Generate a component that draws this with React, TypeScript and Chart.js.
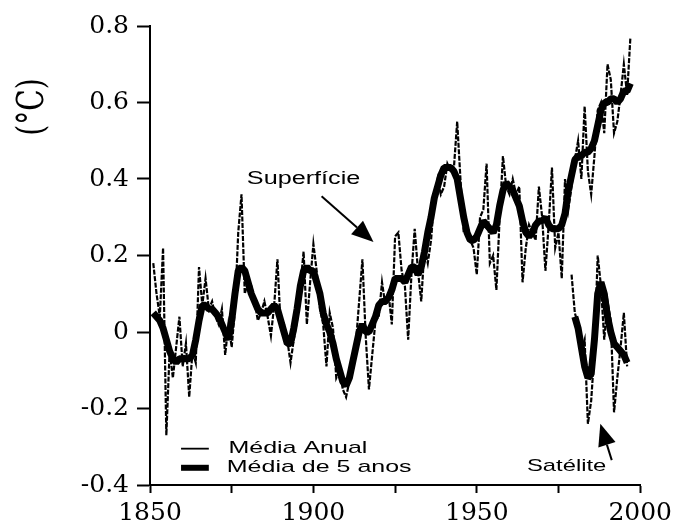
import React, { useEffect, useRef } from "react";
import { Chart, registerables } from "chart.js";

Chart.register(...registerables);

// ---- data ----
const surfaceStartYear = 1851;
const surfaceAnnual = [
  0.18, 0.10, 0.04, 0.22, -0.27, -0.05, -0.12, -0.04, 0.04, -0.09,
  -0.03, -0.17, -0.05, -0.08, 0.17, 0.07, 0.14, 0.06, 0.08, 0.04,
  0.02, 0.06, -0.06, 0.02, -0.04, 0.06, 0.26, 0.36, 0.10, 0.13,
  0.12, 0.08, 0.03, 0.05, 0.08, 0.04, -0.01, 0.07, 0.19, 0.01,
  0.02, -0.02, -0.08, -0.02, 0.03, 0.12, 0.21, 0.02, 0.13, 0.23,
  0.16, 0.06, 0.02, -0.09, 0.05, 0.01, -0.12, -0.10, -0.15, -0.17,
  -0.13, -0.09, -0.03, 0.08, 0.19, -0.01, -0.15, -0.06, 0.03, 0.04,
  0.13, 0.07, 0.10, 0.02, 0.25, 0.26, 0.16, 0.12, -0.02, 0.15,
  0.27, 0.16, 0.08, 0.22, 0.18, 0.24, 0.35, 0.40, 0.36, 0.38,
  0.44, 0.42, 0.43, 0.55, 0.40, 0.26, 0.28, 0.24, 0.22, 0.15,
  0.30, 0.32, 0.44, 0.18, 0.20, 0.11, 0.30, 0.46, 0.38, 0.36,
  0.40, 0.36, 0.38, 0.13, 0.22, 0.28, 0.26, 0.24, 0.38, 0.30,
  0.16, 0.28, 0.43, 0.22, 0.26, 0.14, 0.40, 0.32, 0.38, 0.45,
  0.50, 0.40, 0.59, 0.42, 0.36, 0.46, 0.58, 0.60, 0.52, 0.70,
  0.66, 0.52, 0.55, 0.62, 0.70, 0.62, 0.77,
];
const surfaceFiveYear = [
  0.05, 0.04, 0.03, 0.01, -0.02, -0.05, -0.07, -0.08, -0.07, -0.07,
  -0.07, -0.07, -0.06, -0.02, 0.03, 0.07, 0.07, 0.06, 0.06, 0.05,
  0.04, 0.02, 0.00, -0.02, 0.03, 0.10, 0.16, 0.17, 0.16, 0.13,
  0.10, 0.08, 0.06, 0.05, 0.05, 0.05, 0.06, 0.07, 0.06, 0.03,
  0.00, -0.03, -0.03, 0.01, 0.06, 0.12, 0.16, 0.17, 0.16, 0.16,
  0.13, 0.10, 0.05, 0.02, 0.00, -0.03, -0.07, -0.10, -0.13, -0.14,
  -0.12, -0.08, -0.04, 0.00, 0.02, 0.00, 0.00, 0.02, 0.04, 0.07,
  0.08, 0.08, 0.09, 0.11, 0.14, 0.14, 0.14, 0.13, 0.15, 0.17,
  0.17, 0.15, 0.17, 0.21, 0.26, 0.30, 0.35, 0.38, 0.41, 0.43,
  0.43, 0.43, 0.42, 0.40, 0.35, 0.30, 0.26, 0.24, 0.24, 0.25,
  0.27, 0.29, 0.28, 0.27, 0.26, 0.28, 0.33, 0.37, 0.39, 0.38,
  0.37, 0.35, 0.33, 0.29, 0.26, 0.25, 0.26, 0.28, 0.29, 0.29,
  0.30, 0.28, 0.27, 0.27, 0.27, 0.28, 0.31, 0.37, 0.41, 0.45,
  0.46, 0.46, 0.47, 0.47, 0.48, 0.50, 0.54, 0.58, 0.60, 0.60,
  0.61, 0.61, 0.60, 0.61, 0.63, 0.63, 0.65,
];
const satelliteStartYear = 1979;
const satelliteAnnual = [
  0.15, 0.05, 0.02, -0.05, -0.02, -0.24, -0.18, -0.05, 0.20, 0.12,
  -0.02, 0.08, 0.03, -0.21, -0.12, -0.04, 0.05, -0.09,
];
const satelliteFiveStartYear = 1980;
const satelliteFiveYear = [
  0.04, 0.01, -0.04, -0.09, -0.12, -0.11, -0.02, 0.10, 0.13, 0.10,
  0.04, 0.00, -0.03, -0.04, -0.05, -0.06, -0.08,
];

const xMin = 1850;
const xMax = 2000;
const xTickStep = 25;
const xLabelEvery = 50;
const yMin = -0.4;
const yMax = 0.8;
const yTickStep = 0.2;

const yTitle = "(°C)";
const legendLabels = ["Média Anual", "Média de 5 anos"];
const surfaceNote = "Superfície";
const satelliteNote = "Satélite";

const toPoints = (start: number, vals: number[]) =>
  vals.map((v, i) => ({ x: start + i, y: v }));

function drawArrow(ctx: CanvasRenderingContext2D, x1: number, y1: number, x2: number, y2: number, head: number, headW: number) {
  const ang = Math.atan2(y2 - y1, x2 - x1);
  const bx = x2 - Math.cos(ang) * head;
  const by = y2 - Math.sin(ang) * head;
  ctx.beginPath();
  ctx.moveTo(x1, y1);
  ctx.lineTo(bx, by);
  ctx.lineWidth = 2;
  ctx.strokeStyle = "#000";
  ctx.stroke();
  ctx.beginPath();
  ctx.moveTo(x2, y2);
  ctx.lineTo(bx + Math.sin(ang) * headW / 2, by - Math.cos(ang) * headW / 2);
  ctx.lineTo(bx - Math.sin(ang) * headW / 2, by + Math.cos(ang) * headW / 2);
  ctx.closePath();
  ctx.fillStyle = "#000";
  ctx.fill();
}

function stretchedText(ctx: CanvasRenderingContext2D, text: string, x: number, y: number, font: string, sx: number, align: CanvasTextAlign) {
  ctx.save();
  ctx.translate(x, y);
  ctx.scale(sx, 1);
  ctx.font = font;
  ctx.fillStyle = "#000";
  ctx.textAlign = align;
  ctx.textBaseline = "middle";
  ctx.fillText(text, 0, 0);
  ctx.restore();
}

const overlayPlugin = {
  id: "overlay",
  afterDraw(chart: any) {
    const ctx: CanvasRenderingContext2D = chart.ctx;
    const xs = chart.scales.x;
    const ys = chart.scales.y;
    const X = (v: number) => xs.getPixelForValue(v);
    const Y = (v: number) => ys.getPixelForValue(v);

    // y-axis title
    ctx.save();
    ctx.translate(33, 107);
    ctx.rotate(-Math.PI / 2);
    ctx.scale(1, 1.35);
    ctx.font = '28px "DejaVu Serif"';
    ctx.fillStyle = "#000";
    ctx.textAlign = "center";
    ctx.textBaseline = "middle";
    ctx.fillText(yTitle, 0, 0);
    ctx.restore();

    // Superfície note + arrow
    stretchedText(ctx, surfaceNote, X(1897), Y(0.4), '18px "Liberation Sans"', 1.4, "center");
    drawArrow(ctx, X(1902.5), Y(0.355), X(1918.4), Y(0.235), 22, 18);

    // Satélite note + arrow
    stretchedText(ctx, satelliteNote, X(1977.5), Y(-0.35), '17px "Liberation Sans"', 1.4, "center");
    drawArrow(ctx, X(1991.3), Y(-0.335), X(1987.8), Y(-0.24), 22, 18);

    // legend
    const ds = chart.data.datasets;
    const lx1 = X(1859.5);
    const lx2 = X(1868);
    const ly1 = Y(-0.305);
    const ly2 = Y(-0.355);
    ctx.save();
    ctx.strokeStyle = "#000";
    ctx.lineWidth = 1.8;
    ctx.beginPath();
    ctx.moveTo(lx1, ly1);
    ctx.lineTo(lx2, ly1);
    ctx.stroke();
    ctx.lineWidth = 6;
    ctx.beginPath();
    ctx.moveTo(lx1, ly2);
    ctx.lineTo(lx2, ly2);
    ctx.stroke();
    ctx.restore();
    stretchedText(ctx, ds[0].label, X(1874), ly1, '17px "Liberation Sans"', 1.47, "left");
    stretchedText(ctx, ds[1].label, X(1873.5), ly2, '17px "Liberation Sans"', 1.47, "left");
  },
};

export default function App() {
  const ref = useRef<HTMLCanvasElement | null>(null);

  useEffect(() => {
    if (!ref.current) return;
    const annualStyle = {
      borderColor: "#000",
      borderWidth: 2.2,
      borderDash: [5, 1.5],
      pointRadius: 0,
      tension: 0,
      order: 2,
    };
    const fiveStyle = {
      borderColor: "#000",
      borderWidth: 7,
      pointRadius: 0,
      tension: 0,
      borderJoinStyle: "bevel" as const,
      order: 1,
    };
    const chart = new Chart(ref.current, {
      type: "line",
      data: {
        datasets: [
          { label: legendLabels[0], data: toPoints(surfaceStartYear, surfaceAnnual), ...annualStyle },
          { label: legendLabels[1], data: toPoints(surfaceStartYear, surfaceFiveYear), ...fiveStyle },
          { label: "Satélite – " + legendLabels[0], data: toPoints(satelliteStartYear, satelliteAnnual), ...annualStyle },
          { label: "Satélite – " + legendLabels[1], data: toPoints(satelliteFiveStartYear, satelliteFiveYear), ...fiveStyle },
        ],
      },
      options: {
        animation: false,
        responsive: true,
        maintainAspectRatio: false,
        layout: { padding: { top: 26, right: 33, left: 0, bottom: 0 } },
        plugins: {
          legend: { display: false },
          tooltip: { enabled: false },
        },
        scales: {
          x: {
            type: "linear",
            min: xMin,
            max: xMax,
            border: { display: true, color: "#000", width: 2 },
            grid: {
              display: true,
              drawOnChartArea: false,
              drawTicks: true,
              tickLength: 8,
              tickWidth: 2,
              tickColor: "#000",
              color: "#000",
            },
            ticks: {
              stepSize: xTickStep,
              autoSkip: false,
              maxRotation: 0,
              minRotation: 0,
              padding: 5,
              color: "#000",
              font: { family: "DejaVu Serif", size: 25 },
              callback: (v: any) => (Number(v) % xLabelEvery === 0 ? String(v) : ""),
            },
            afterFit: (s: any) => {
              s.height = 43;
            },
          },
          y: {
            min: yMin,
            max: yMax,
            border: { display: true, color: "#000", width: 2 },
            grid: {
              display: true,
              drawOnChartArea: false,
              drawTicks: true,
              tickLength: 13,
              tickWidth: 2,
              tickColor: "#000",
              color: "#000",
            },
            ticks: {
              stepSize: yTickStep,
              padding: 8,
              color: "#000",
              font: { family: "DejaVu Serif", size: 25 },
              callback: (v: any) => String(Math.round(Number(v) * 10) / 10),
            },
            afterFit: (s: any) => {
              s.width = 150;
            },
          },
        },
      },
      plugins: [overlayPlugin],
    });
    return () => chart.destroy();
  }, []);

  return (
    <div style={{ position: "fixed", left: 0, top: 0, width: 677, height: 528, background: "#fff" }}>
      <canvas ref={ref} />
    </div>
  );
}
